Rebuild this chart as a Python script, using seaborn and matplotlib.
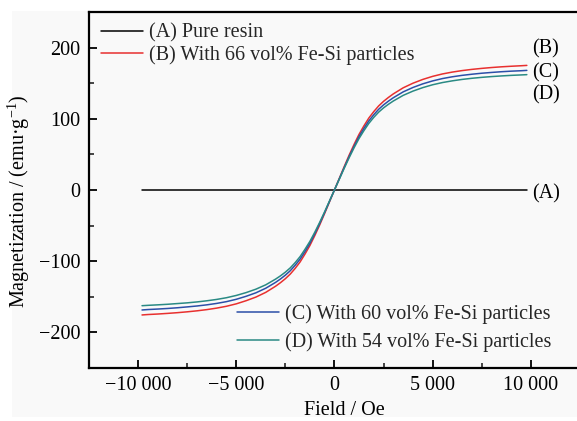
import matplotlib
matplotlib.use("Agg")
import matplotlib.pyplot as plt
from matplotlib.patches import Rectangle
from matplotlib.ticker import MultipleLocator, FuncFormatter
import seaborn as sns
import pandas as pd

# Applied field (Oe)
field = [-9800, -9500, -9000, -8500, -8000, -7500, -7000, -6500, -6000, -5500,
         -5000, -4500, -4000, -3500, -3000, -2750, -2500, -2250, -2000, -1750,
         -1500, -1250, -1000, -750, -500, -250, 0,
         250, 500, 750, 1000, 1250, 1500, 1750, 2000, 2250, 2500,
         2750, 3000, 3500, 4000, 4500, 5000, 5500, 6000, 6500, 7000,
         7500, 8000, 8500, 9000, 9500, 9800]

# Magnetization (emu/g)
mag_b = [-175.5, -174.9, -174.2, -173.3, -172.3, -171.1, -169.7, -168.0, -165.9, -163.3,
         -159.9, -155.5, -150.4, -143.8, -135.2, -130.2, -124.6, -118.1, -110.1, -101.1,
         -90.0, -78.0, -64.0, -49.0, -33.0, -16.5, 0.0,
         16.5, 33.0, 49.0, 64.0, 78.0, 90.0, 101.0, 110.0, 118.0, 124.5,
         130.0, 135.0, 143.5, 150.0, 155.3, 159.6, 163.0, 165.6, 167.7, 169.4,
         170.8, 172.0, 173.0, 173.8, 174.5, 175.0]

mag_c = [-168.5, -167.9, -167.2, -166.4, -165.4, -164.2, -162.9, -161.3, -159.3, -156.8,
         -153.5, -149.3, -144.4, -138.0, -129.8, -125.0, -119.6, -113.4, -105.7, -97.1,
         -86.4, -74.9, -61.4, -47.0, -31.7, -15.8, 0.0,
         15.8, 31.7, 47.0, 61.4, 74.9, 86.4, 97.0, 105.6, 113.3, 119.5,
         124.8, 129.6, 137.8, 144.0, 149.1, 153.2, 156.5, 159.0, 161.0, 162.6,
         164.0, 165.1, 166.1, 166.9, 167.5, 168.0]

mag_d = [-162.5, -162.0, -161.3, -160.5, -159.5, -158.5, -157.2, -155.6, -153.7, -151.3,
         -148.1, -144.1, -139.3, -133.2, -125.2, -120.6, -115.4, -109.4, -102.0, -93.6,
         -83.3, -72.2, -59.3, -45.4, -30.6, -15.3, 0.0,
         15.3, 30.6, 45.4, 59.3, 72.2, 83.3, 93.5, 101.9, 109.3, 115.3,
         120.4, 125.0, 132.9, 138.9, 143.8, 147.8, 150.9, 153.3, 155.3, 156.9,
         158.2, 159.3, 160.2, 161.0, 161.6, 162.0]

field_a = [-9800, 9800]
mag_a = [0.0, 0.0]

series_names = ["(A) Pure resin",
                "(B) With 66 vol% Fe-Si particles",
                "(C) With 60 vol% Fe-Si particles",
                "(D) With 54 vol% Fe-Si particles"]
series_colors = ["#000000", "#e8302f", "#2c4fa8", "#2a8a84"]
end_tags = ["(A)", "(B)", "(C)", "(D)"]
end_tag_y = [-5, 198, 165, 133]

frames = [pd.DataFrame({"field": field_a, "mag": mag_a, "sample": series_names[0]})]
for name, vals in zip(series_names[1:], [mag_b, mag_c, mag_d]):
    frames.append(pd.DataFrame({"field": field, "mag": vals, "sample": name}))
df = pd.concat(frames, ignore_index=True)

sns.set_theme(style="ticks")
plt.rcParams["font.family"] = ["Liberation Serif", "DejaVu Serif"]
plt.rcParams["mathtext.fontset"] = "custom"
plt.rcParams["mathtext.rm"] = "Liberation Serif"
plt.rcParams["mathtext.it"] = "Liberation Serif:italic"
plt.rcParams["mathtext.bf"] = "Liberation Serif:bold"

FS = 14.5

fig = plt.figure(figsize=(5.77, 4.21), dpi=100, facecolor="white")
fig.patches.append(Rectangle((12 / 577, 4 / 421), 1.0, 1 - 15 / 421,
                             transform=fig.transFigure, facecolor="#f9f9f9",
                             edgecolor="none", zorder=-10))
ax = fig.add_axes([89 / 577, 53 / 421, 510.5 / 577, 356 / 421])
ax.set_facecolor("none")

sns.lineplot(data=df, x="field", y="mag", hue="sample", hue_order=series_names,
             palette=dict(zip(series_names, series_colors)), estimator=None,
             sort=False, linewidth=1.1, legend=False, ax=ax)

ax.set_xlim(-12500, 13500)
ax.set_ylim(-250, 250)
ax.xaxis.set_major_locator(MultipleLocator(5000))
ax.xaxis.set_minor_locator(MultipleLocator(2500))
ax.yaxis.set_major_locator(MultipleLocator(100))
ax.yaxis.set_minor_locator(MultipleLocator(50))


def thousands(v, pos):
    s = f"{abs(int(round(v))):,}".replace(",", " ")
    return ("\u2212" + s) if v < 0 else s


ax.xaxis.set_major_formatter(FuncFormatter(thousands))
ax.yaxis.set_major_formatter(FuncFormatter(lambda v, p: ("\u2212" if v < 0 else "") + f"{abs(int(v))}"))

ax.tick_params(axis="both", which="major", direction="in", length=6, width=1.3,
               labelsize=FS, colors="black", pad=6)
ax.tick_params(axis="both", which="minor", direction="in", length=3.5, width=1.2)
ax.tick_params(top=False, right=False)
for side in ["left", "bottom", "top"]:
    ax.spines[side].set_linewidth(1.6)
    ax.spines[side].set_color("black")
ax.spines["right"].set_visible(False)

ax.set_xlabel("Field / Oe", fontsize=FS, color="black")
ax.set_ylabel("Magnetization / (emu\u00b7g$^{-1}$)", fontsize=FS, color="black")
ax.xaxis.set_label_coords(0.5, -0.092)
ax.yaxis.set_label_coords(-0.112, 0.469)

for tag, ty in zip(end_tags, end_tag_y):
    ax.text(10050, ty, tag, fontsize=FS, ha="left", va="center", color="black")

lines = ax.get_lines()
leg1 = ax.legend(lines[:2], series_names[:2], loc="upper left",
                 bbox_to_anchor=(0.0235, 0.968), frameon=False, fontsize=FS,
                 handlelength=2.1, handletextpad=0.3, labelspacing=0.12,
                 borderpad=0, borderaxespad=0)
ax.add_artist(leg1)
ax.legend(lines[2:], series_names[2:], loc="upper left",
          bbox_to_anchor=(0.289, 0.178), frameon=False, fontsize=FS,
          handlelength=2.1, handletextpad=0.3, labelspacing=0.38,
          borderpad=0, borderaxespad=0)

fig.savefig("out.png", dpi=100, facecolor=fig.get_facecolor())
